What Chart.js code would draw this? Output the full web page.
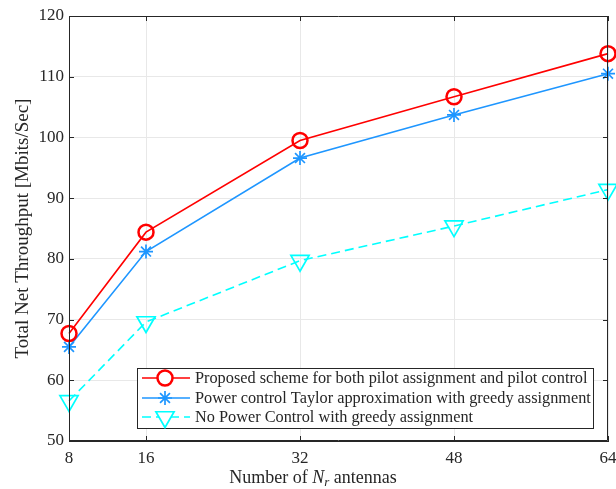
<!DOCTYPE html>
<html>
<head>
<meta charset="utf-8">
<script src="https://cdn.jsdelivr.net/npm/chart.js@4"></script>
<style>
  body { margin: 0; background: #fff; }
  #wrap { width: 616px; height: 489px; }
</style>
</head>
<body>
<div id="wrap"><canvas id="thru"></canvas></div>
<script>
// number of receive antennas
const antennas = [8, 16, 32, 48, 64];
const yTicks = [50, 60, 70, 80, 90, 100, 110, 120];

// throughput values (Mbits/Sec)
const proposed = [67.7, 84.4, 99.5, 106.7, 113.8];
const taylorGreedy = [65.5, 81.2, 96.6, 103.7, 110.5];
const noPowerCtrl = [56.6, 69.6, 79.7, 85.4, 91.4];

const seriesLabels = [
  'Proposed scheme for both pilot assignment and pilot control',
  'Power control Taylor approximation with greedy assignment',
  'No Power Control with greedy assignment'
];

const FONT = "'Liberation Serif', serif";
const AXIS = '#262626';

function pts(ys) {
  return antennas.map((x, i) => ({ x: x, y: ys[i] }));
}

// box, inner ticks, x title and the legend, MATLAB style
const matlabBits = {
  id: 'matlabBits',
  afterDatasetsDraw(chart) {
    const ctx = chart.ctx;
    const a = chart.chartArea;
    const xs = chart.scales.x, ys = chart.scales.y;
    ctx.save();
    ctx.strokeStyle = AXIS;
    ctx.lineWidth = 1;
    ctx.beginPath();
    ctx.rect(a.left + 0.5, a.top + 0.5, a.right - a.left - 1, a.bottom - a.top - 1);
    ctx.stroke();
    // inner ticks
    ctx.beginPath();
    antennas.forEach(v => {
      const px = Math.round(xs.getPixelForValue(v)) + 0.5;
      ctx.moveTo(px, a.bottom); ctx.lineTo(px, a.bottom - 5);
      ctx.moveTo(px, a.top); ctx.lineTo(px, a.top + 5);
    });
    yTicks.forEach(v => {
      const py = Math.round(ys.getPixelForValue(v)) + 0.5;
      ctx.moveTo(a.left, py); ctx.lineTo(a.left + 5, py);
      ctx.moveTo(a.right, py); ctx.lineTo(a.right - 5, py);
    });
    ctx.stroke();

    // x axis title with italic N_r
    ctx.fillStyle = AXIS;
    ctx.textBaseline = 'alphabetic';
    const y0 = 483;
    const parts = [
      { t: 'Number of ', f: '18px ' + FONT, dy: 0 },
      { t: 'N', f: 'italic 18px ' + FONT, dy: 0 },
      { t: 'r', f: 'italic 13px ' + FONT, dy: 3 },
      { t: ' antennas', f: '18px ' + FONT, dy: 0 }
    ];
    let w = 0;
    parts.forEach(p => { ctx.font = p.f; p.w = ctx.measureText(p.t).width; w += p.w; });
    let x = 313 - w / 2;
    ctx.textAlign = 'left';
    parts.forEach(p => { ctx.font = p.f; ctx.fillText(p.t, x, y0 + p.dy); x += p.w; });

    // legend
    const lx = 137, ly = 368, lw = 456, lh = 60;
    ctx.fillStyle = '#fff';
    ctx.fillRect(lx, ly, lw, lh);
    ctx.strokeStyle = AXIS;
    ctx.strokeRect(lx + 0.5, ly + 0.5, lw, lh);
    const rows = [378, 398, 417];
    chart.data.datasets.forEach((ds, i) => {
      const ry = rows[i];
      ctx.save();
      ctx.strokeStyle = ds.borderColor;
      ctx.lineWidth = ds.borderWidth;
      ctx.setLineDash(ds.borderDash || []);
      ctx.beginPath();
      ctx.moveTo(lx + 5, ry); ctx.lineTo(lx + 53, ry);
      ctx.stroke();
      ctx.setLineDash([]);
      ctx.fillStyle = '#fff';
      ctx.lineWidth = ds.pointBorderWidth;
      Chart.helpers.drawPoint(ctx, {
        pointStyle: ds.pointStyle,
        radius: ds.pointRadius,
        rotation: ds.pointRotation || 0,
        borderWidth: ds.pointBorderWidth
      }, lx + 28, ry);
      ctx.restore();
      ctx.fillStyle = AXIS;
      ctx.font = '16.3px ' + FONT;
      ctx.textBaseline = 'middle';
      ctx.fillText(ds.label, lx + 58, ry + 1);
    });
    ctx.restore();
  }
};

new Chart(document.getElementById('thru'), {
  type: 'line',
  data: {
    datasets: [
      {
        label: seriesLabels[0],
        data: pts(proposed),
        borderColor: '#ff0000',
        backgroundColor: 'rgba(0,0,0,0)',
        borderWidth: 1.6,
        pointStyle: 'circle',
        pointRadius: 7.5,
        pointBorderWidth: 2.5,
        pointBorderColor: '#ff0000',
        pointBackgroundColor: 'rgba(0,0,0,0)',
        clip: false
      },
      {
        label: seriesLabels[1],
        data: pts(taylorGreedy),
        borderColor: '#1e96ff',
        backgroundColor: 'rgba(0,0,0,0)',
        borderWidth: 1.6,
        pointStyle: 'star',
        pointRadius: 7,
        pointBorderWidth: 1.7,
        pointBorderColor: '#1e96ff',
        pointBackgroundColor: 'rgba(0,0,0,0)',
        clip: false
      },
      {
        label: seriesLabels[2],
        data: pts(noPowerCtrl),
        borderColor: '#00ffff',
        backgroundColor: 'rgba(0,0,0,0)',
        borderWidth: 1.6,
        borderDash: [9, 5],
        pointStyle: 'triangle',
        pointRotation: 180,
        pointRadius: 10.5,
        pointBorderWidth: 1.7,
        pointBorderColor: '#00ffff',
        pointBackgroundColor: 'rgba(0,0,0,0)',
        clip: false
      }
    ]
  },
  options: {
    responsive: true,
    maintainAspectRatio: false,
    animation: false,
    layout: { autoPadding: false, padding: { top: 16, right: 8, left: 0, bottom: 0 } },
    plugins: { legend: { display: false }, tooltip: { enabled: false } },
    elements: { line: { tension: 0 } },
    scales: {
      x: {
        type: 'linear',
        min: 8, max: 64,
        afterBuildTicks: s => { s.ticks = antennas.map(v => ({ value: v })); },
        afterFit: s => { s.height = 48; s.paddingLeft = 0; s.paddingRight = 0; },
        grid: { color: '#e8e8e8', drawTicks: false },
        border: { display: true, color: AXIS },
        ticks: { color: AXIS, font: { family: FONT, size: 17 }, padding: 7, maxRotation: 0 }
      },
      y: {
        min: 50, max: 120,
        afterBuildTicks: s => { s.ticks = yTicks.map(v => ({ value: v })); },
        afterFit: s => { s.width = 69; },
        grid: { color: '#e8e8e8', drawTicks: false },
        border: { display: true, color: AXIS },
        ticks: { color: AXIS, font: { family: FONT, size: 17 }, padding: 5 },
        title: {
          display: true,
          text: 'Total Net Throughput [Mbits/Sec]',
          color: AXIS,
          font: { family: FONT, size: 19 },
          padding: { top: 12, bottom: 2 }
        }
      }
    }
  },
  plugins: [matlabBits]
});
</script>
</body>
</html>
